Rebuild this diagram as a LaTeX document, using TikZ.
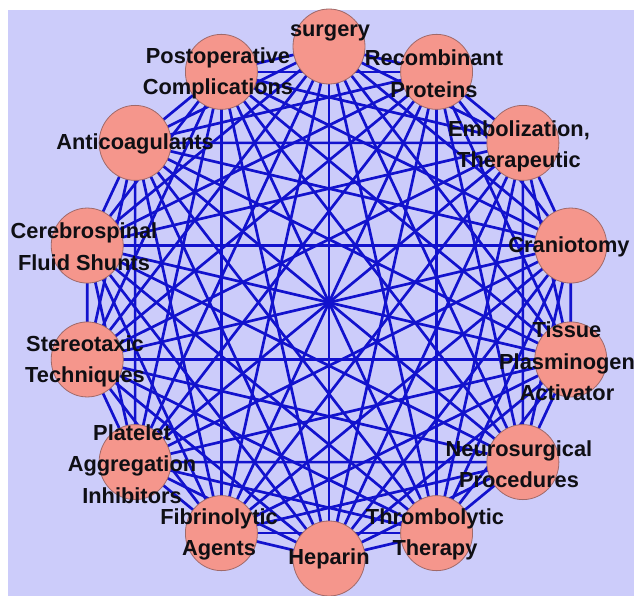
\documentclass[tikz,border=0pt]{standalone}
\usepackage{fontspec}
\setmainfont{Liberation Sans}
\usetikzlibrary{shapes.geometric}
\definecolor{bgc}{RGB}{204,204,250}
\definecolor{edgec}{RGB}{18,18,205}
\definecolor{nodefill}{RGB}{245,150,140}
\definecolor{nodeline}{RGB}{160,105,105}
\definecolor{txt}{RGB}{15,15,20}
\pgfdeclarelayer{bglayer}
\pgfdeclarelayer{edgelayer}
\pgfsetlayers{bglayer,edgelayer,main}
\begin{document}
\begin{tikzpicture}[x=1pt,y=-1pt,
 vert/.style={ellipse, fill=nodefill, draw=nodeline, line width=0.8pt, minimum width=72pt, minimum height=75pt, inner sep=0pt},
 lbl/.style={font=\bfseries\fontsize{21.8}{31.5}\selectfont, text=txt, align=center, inner sep=0pt},
 conn/.style={draw=edgec, line width=2.7pt}]
\useasboundingbox (0,0) rectangle (634,596);
\begin{pgfonlayer}{bglayer}
\fill[white] (0,0) rectangle (634,596);
\fill[bgc] (8,10) rectangle (634,596);
\end{pgfonlayer}
\foreach \i in {0,...,13}{
 \node[vert] (n\i) at ({329+248*cos(90-\i*360/14)},{302.5-256*sin(90-\i*360/14)}) {};
}
\begin{pgfonlayer}{edgelayer}
\foreach \i in {0,...,12}{
 \pgfmathtruncatemacro\s{\i+1}
 \foreach \j in {\s,...,13}{ \draw[conn] (n\i.center) -- (n\j.center); }
}
\end{pgfonlayer}
\node[lbl] (l0) at (330,33) {surgery};
\node[lbl] (l1) at (434,73.5) {Recombinant\\Proteins};
\node[lbl] (l2) at (519,146.5) {Embolization,\\Therapeutic};
\node[lbl] (l3) at (569,247) {Craniotomy};
\node[lbl] (l4) at (567,361.5) {Tissue\\Plasminogen\\Activator};
\node[lbl] (l5) at (519,464) {Neurosurgical\\Procedures};
\node[lbl] (l6) at (435,534.5) {Thrombolytic\\Therapy};
\node[lbl] (l7) at (329,559) {Heparin};
\node[lbl] (l8) at (219,534.5) {Fibrinolytic\\Agents};
\node[lbl] (l9) at (132,464) {Platelet\\Aggregation\\Inhibitors};
\node[lbl] (l10) at (85,361.5) {Stereotaxic\\Techniques};
\node[lbl] (l11) at (84,246.5) {Cerebrospinal\\Fluid Shunts};
\node[lbl] (l12) at (135,144) {Anticoagulants};
\node[lbl] (l13) at (218,73.5) {Postoperative\\Complications};
\end{tikzpicture}
\end{document}
